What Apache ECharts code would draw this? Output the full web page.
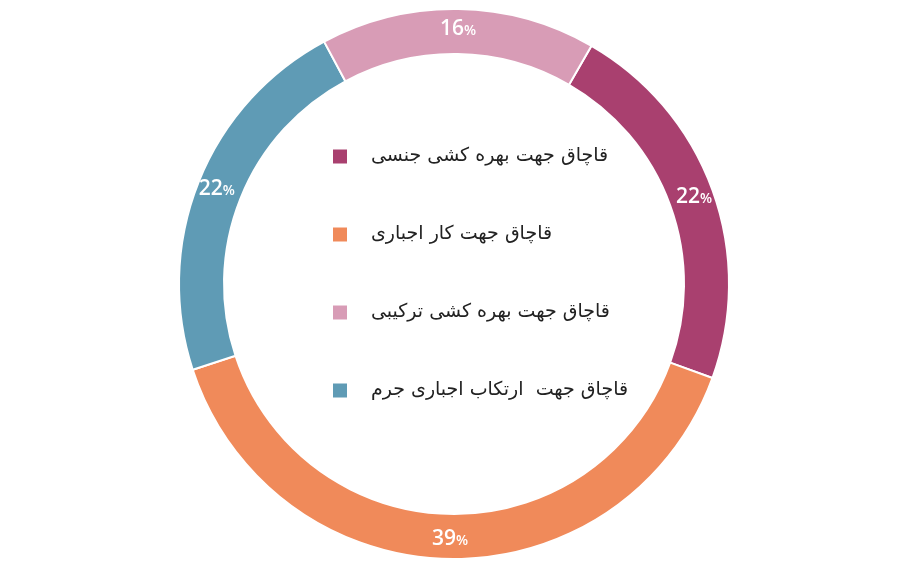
<!DOCTYPE html>
<html>
<head>
<meta charset="utf-8">
<script src="https://cdn.jsdelivr.net/npm/echarts@6/dist/echarts.min.js"></script>
<style>
  html, body { margin: 0; padding: 0; background: #fff; }
  #main { width: 907px; height: 584px; }
</style>
</head>
<body>
<div id="main"></div>
<script>
// دسته ها (ترتیب ساعتگرد از بالا-راست)
var categories = [
    'قاچاق جهت بهره کشی جنسی',
    'قاچاق جهت کار اجباری',
    'قاچاق جهت  ارتکاب اجباری جرم',
    'قاچاق جهت بهره کشی ترکیبی'
];
var values = [22, 39, 22, 16];
var colors = ['#A9406F', '#F08A5A', '#5F9BB5', '#D89CB6'];
// ترتیب راهنما
var legendOrder = [
    'قاچاق جهت بهره کشی جنسی',
    'قاچاق جهت کار اجباری',
    'قاچاق جهت بهره کشی ترکیبی',
    'قاچاق جهت  ارتکاب اجباری جرم'
];

var myChart = echarts.init(document.getElementById('main'));

var data = [];
categories.forEach(function (name, i) {
    data.push({ name: name, value: values[i], itemStyle: { color: colors[i] } });
});

myChart.setOption({
    animation: false,
    legend: {
        data: legendOrder,
        orient: 'vertical',
        left: 326,
        top: 142,
        icon: 'rect',
        itemWidth: 16,
        itemHeight: 16,
        itemGap: 59,
        selectedMode: false,
        textStyle: {
            fontFamily: 'DejaVu Sans',
            fontSize: 19,
            color: '#222',
            padding: [0, 0, 0, 18]
        }
    },
    series: [
        {
            type: 'pie',
            center: [454, 284],
            radius: [230, 275],
            startAngle: 60,
            clockwise: true,
            silent: true,
            data: data,
            itemStyle: {
                borderColor: '#fff',
                borderWidth: 2
            },
            label: {
                show: true,
                position: 'inside',
                formatter: '{n|{c}}{p|%}',
                rich: {
                    n: { fontFamily: 'Open Sans', fontSize: 21, fontWeight: 600, color: '#fff' },
                    p: { fontFamily: 'Open Sans', fontSize: 14, fontWeight: 600, color: '#fff', padding: [4, 0, 0, 0] }
                }
            },
            labelLine: { show: false }
        }
    ]
});
</script>
</body>
</html>
